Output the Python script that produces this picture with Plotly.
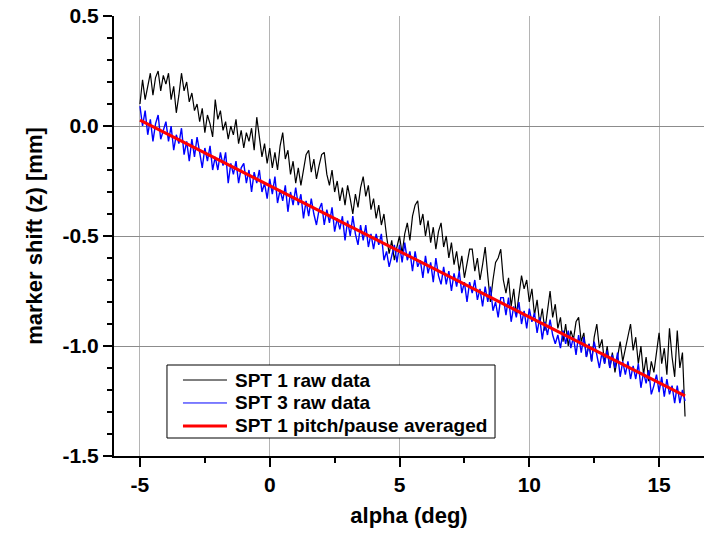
import numpy as np
import plotly.graph_objects as go

# sampling grid of the raw traces (deg)
alpha_raw = np.round(np.arange(-5.0, 16.0001, 0.1), 1)

spt1_raw = [
    0.10, 0.21, 0.12, 0.18, 0.24, 0.14, 0.22, 0.25, 0.16, 0.23,
    0.19, 0.24, 0.12, 0.18, 0.06, 0.14, 0.24, 0.16, 0.20, 0.11,
    0.15, 0.07, 0.10, 0.02, 0.08, -0.03, 0.05, 0.01, -0.05, 0.12,
    0.03, 0.07, -0.02, 0.02, -0.06, 0.00, -0.04, 0.03, -0.08, -0.02,
    -0.10, -0.03, -0.07, -0.01, -0.11, 0.04, -0.06, -0.14, -0.08, -0.17,
    -0.10, -0.19, -0.12, -0.20, -0.09, -0.03, -0.15, -0.11, -0.22, -0.16,
    -0.26, -0.19, -0.27, -0.20, -0.13, -0.11, -0.21, -0.15, -0.24, -0.18,
    -0.13, -0.12, -0.22, -0.27, -0.20, -0.30, -0.25, -0.34, -0.28, -0.36,
    -0.27, -0.33, -0.40, -0.31, -0.37, -0.28, -0.23, -0.32, -0.27, -0.38,
    -0.33, -0.42, -0.36, -0.45, -0.40, -0.50, -0.58, -0.52, -0.61, -0.55,
    -0.50, -0.58, -0.49, -0.44, -0.52, -0.41, -0.36, -0.34, -0.45, -0.40,
    -0.50, -0.43, -0.53, -0.46, -0.56, -0.48, -0.44, -0.55, -0.50, -0.60,
    -0.53, -0.63, -0.57, -0.66, -0.59, -0.69, -0.62, -0.56, -0.56, -0.66,
    -0.60, -0.70, -0.63, -0.55, -0.68, -0.80, -0.70, -0.62, -0.60, -0.56,
    -0.70, -0.76, -0.69, -0.82, -0.74, -0.86, -0.77, -0.68, -0.74, -0.70,
    -0.80, -0.74, -0.86, -0.79, -0.90, -0.83, -0.93, -0.84, -0.75, -0.87,
    -0.81, -0.92, -0.87, -0.98, -0.90, -1.00, -0.93, -0.97, -0.89, -0.87,
    -0.98, -0.94, -1.05, -0.99, -1.07, -0.96, -0.90, -1.01, -0.97, -1.08,
    -1.00, -1.10, -1.03, -1.12, -1.04, -0.98, -1.07, -1.01, -0.95, -0.90,
    -1.02, -0.96, -1.08, -1.00, -1.13, -1.05, -1.16, -1.07, -1.12, -1.03,
    -0.94, -1.08, -1.01, -1.13, -0.92, -1.05, -1.14, -0.93, -1.10, -1.03,
    -1.32,
]

spt3_raw = [
    0.09, 0.00, 0.07, -0.04, 0.03, -0.07, 0.01, 0.05, -0.06, -0.02,
    0.02, -0.07, 0.00, -0.11, -0.04, -0.08, -0.01, -0.13, -0.07, -0.16,
    -0.06, -0.14, -0.05, -0.12, -0.19, -0.10, -0.16, -0.09, -0.20, -0.14,
    -0.20, -0.12, -0.18, -0.12, -0.26, -0.17, -0.22, -0.16, -0.26, -0.19,
    -0.17, -0.26, -0.20, -0.30, -0.21, -0.26, -0.20, -0.30, -0.26, -0.33,
    -0.24, -0.31, -0.23, -0.35, -0.29, -0.34, -0.27, -0.39, -0.30, -0.36,
    -0.28, -0.36, -0.31, -0.42, -0.34, -0.41, -0.33, -0.40, -0.45, -0.38,
    -0.35, -0.45, -0.38, -0.44, -0.37, -0.48, -0.42, -0.47, -0.41, -0.52,
    -0.43, -0.50, -0.41, -0.49, -0.54, -0.45, -0.52, -0.45, -0.55, -0.49,
    -0.56, -0.49, -0.54, -0.49, -0.61, -0.57, -0.64, -0.59, -0.54, -0.62,
    -0.54, -0.62, -0.53, -0.61, -0.57, -0.66, -0.57, -0.64, -0.61, -0.69,
    -0.59, -0.67, -0.62, -0.71, -0.60, -0.68, -0.72, -0.64, -0.72, -0.66,
    -0.75, -0.67, -0.73, -0.66, -0.76, -0.71, -0.80, -0.71, -0.76, -0.70,
    -0.79, -0.74, -0.82, -0.73, -0.80, -0.73, -0.84, -0.80, -0.87, -0.78,
    -0.78, -0.86, -0.78, -0.89, -0.82, -0.87, -0.80, -0.90, -0.84, -0.92,
    -0.83, -0.89, -0.85, -0.94, -0.87, -0.97, -0.89, -0.95, -0.88, -0.95,
    -0.99, -0.95, -1.01, -0.93, -0.99, -0.93, -1.01, -0.96, -1.04, -0.95,
    -1.03, -0.96, -1.05, -0.99, -1.07, -0.98, -1.04, -1.10, -1.03, -1.08,
    -1.02, -1.10, -1.04, -1.10, -1.03, -1.14, -1.07, -1.13, -1.07, -1.15,
    -1.09, -1.15, -1.08, -1.19, -1.12, -1.17, -1.11, -1.22, -1.18, -1.13,
    -1.21, -1.14, -1.23, -1.15, -1.22, -1.18, -1.26, -1.18, -1.26, -1.20,
    -1.25,
]

alpha_avg = [-5, -4, -3, -2, -1, 0, 1, 2, 3, 4, 5, 6, 7, 8, 9, 10, 11, 12, 13, 14, 15, 16]
spt1_avg = [0.027, -0.033, -0.092, -0.152, -0.211, -0.271, -0.331, -0.391, -0.450, -0.510,
            -0.570, -0.629, -0.689, -0.749, -0.809, -0.868, -0.928, -0.988, -1.047, -1.107,
            -1.167, -1.227]

series_names = ["SPT 1 raw data", "SPT 3 raw data", "SPT 1 pitch/pause averaged"]
series_colors = ["black", "#0000ff", "#ff0000"]
series_widths = [1.2, 1.4, 3]

x_tickvals = [-5, 0, 5, 10, 15]
x_ticktext = ["-5", "0", "5", "10", "15"]
y_tickvals = [-1.5, -1.0, -0.5, 0.0, 0.5]
y_ticktext = ["-1.5", "-1.0", "-0.5", "0.0", "0.5"]

assert len(alpha_raw) == len(spt1_raw) == len(spt3_raw)

FONT = "Arial, Liberation Sans, sans-serif"

fig = go.Figure()
data_x = [alpha_raw, alpha_raw, alpha_avg]
data_y = [spt1_raw, spt3_raw, spt1_avg]
for xs, ys, nm, col, w in zip(data_x, data_y, series_names, series_colors, series_widths):
    fig.add_trace(go.Scatter(x=xs, y=ys, mode="lines", name=nm,
                             line=dict(color=col, width=w), showlegend=False))

# legend box drawn in paper coordinates (frame, samples, labels)
leg_x0, leg_x1, leg_y0, leg_y1 = 0.0898, 0.6458, 0.0409, 0.2068
row_y = [0.1727, 0.1205, 0.0682]
fig.add_shape(type="rect", xref="paper", yref="paper", x0=leg_x0, x1=leg_x1, y0=leg_y0, y1=leg_y1,
              line=dict(color="black", width=1), fillcolor="white", layer="above")
for ry, nm, col, w in zip(row_y, series_names, series_colors, series_widths):
    fig.add_shape(type="line", xref="paper", yref="paper", x0=0.1169, x1=0.1915, y0=ry, y1=ry,
                  line=dict(color=col, width=1 if w < 2 else 3), layer="above")
    fig.add_annotation(xref="paper", yref="paper", x=0.2017, y=ry, text=nm, showarrow=False,
                       xanchor="left", yanchor="middle",
                       font=dict(family=FONT, size=19, color="black", weight="bold"))

fig.update_layout(
    width=704, height=536,
    margin=dict(l=114, r=0, t=16, b=80),
    paper_bgcolor="white", plot_bgcolor="white",
    font=dict(family=FONT, color="black"),
    showlegend=False,
)
fig.update_xaxes(
    range=[-6, 16.73], showline=True, linewidth=2, linecolor="black",
    ticks="outside", ticklen=9, tickwidth=2, tickcolor="black",
    tickmode="array", tickvals=x_tickvals, ticktext=x_ticktext, zeroline=False,
    showgrid=True, gridcolor="#b4b4b4", gridwidth=1,
    minor=dict(tickmode="linear", ticks="outside", ticklen=5, tickwidth=2, tickcolor="black",
               dtick=2.5, tick0=0, showgrid=False),
    tickfont=dict(family=FONT, size=21, weight="bold"),
    title=dict(text="alpha (deg)", font=dict(family=FONT, size=22, weight="bold"), standoff=12),
)
fig.update_yaxes(
    range=[-1.5, 0.5], showline=True, linewidth=2, linecolor="black",
    ticks="outside", ticklen=9, tickwidth=2, tickcolor="black",
    tickmode="array", tickvals=y_tickvals, ticktext=y_ticktext, zeroline=False,
    showgrid=True, gridcolor="#8c8c8c", gridwidth=1,
    minor=dict(tickmode="linear", ticks="outside", ticklen=5, tickwidth=2, tickcolor="black",
               dtick=0.1, tick0=0, showgrid=False),
    tickfont=dict(family=FONT, size=21, weight="bold"),
    title=dict(text="marker shift (z) [mm]", font=dict(family=FONT, size=22, weight="bold"), standoff=14),
)

fig.write_html("out.html")
